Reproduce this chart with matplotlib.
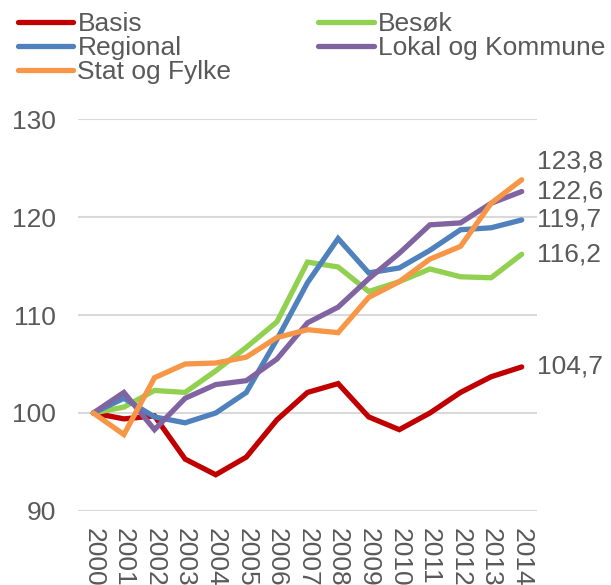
import matplotlib
matplotlib.use('Agg')
from matplotlib import pyplot as plt

plt.rcParams['font.family'] = ['Liberation Sans', 'DejaVu Sans']

years = [str(y) for y in range(2000, 2015)]
basis = [100, 99.4, 99.7, 95.3, 93.7, 95.5, 99.3, 102.1, 103.0, 99.6, 98.3, 100.0, 102.1, 103.7, 104.7]
besok = [100, 100.6, 102.3, 102.1, 104.3, 106.7, 109.3, 115.4, 114.9, 112.4, 113.4, 114.7, 113.9, 113.8, 116.2]
regional = [100, 101.5, 99.6, 99.0, 100.0, 102.1, 107.5, 113.3, 117.8, 114.3, 114.8, 116.6, 118.7, 118.9, 119.7]
lokal = [100, 102.1, 98.3, 101.5, 102.9, 103.3, 105.5, 109.2, 110.8, 113.7, 116.3, 119.2, 119.4, 121.4, 122.6]
stat = [100, 97.8, 103.6, 105.0, 105.1, 105.7, 107.7, 108.5, 108.2, 111.8, 113.4, 115.7, 117.0, 121.4, 123.8]
end_labels = ['104,7', '116,2', '119,7', '122,6', '123,8']

grey = '#595959'
fs = 19
fig = plt.figure(figsize=(6.11, 5.85), dpi=100)
ax = fig.add_axes([78 / 611, 1 - 511 / 585, 459 / 611, 392 / 585])

x = list(range(len(years)))
series = [
    ('Basis', basis, '#C00000'),
    ('Besøk', besok, '#92D050'),
    ('Regional', regional, '#4F81BD'),
    ('Lokal og Kommune', lokal, '#8064A2'),
    ('Stat og Fylke', stat, '#F79646'),
]
handles = {}
for name, vals, col in series:
    h, = ax.plot(x, vals, color=col, lw=3.8, solid_capstyle='round', solid_joinstyle='miter')
    handles[name] = h

# value labels at the right end (top one nudged up to avoid overlap)
offsets = [0, 0, 0, 0, 1.9]
for (name, vals, col), lab, off in zip(series, end_labels, offsets):
    ax.text(14.5, vals[-1] + off, lab, fontsize=fs, color=grey, va='center', ha='left')

ax.set_xlim(-0.5, 14.5)
ax.set_ylim(90, 130)
ax.set_yticks([90, 100, 110, 120, 130])
ax.set_xticks(x)
ax.set_xticklabels(years, rotation=270, fontsize=fs, color=grey, va='top', ha='center')
ax.tick_params(axis='y', labelsize=fs, colors=grey, length=0, pad=16)
ax.tick_params(axis='x', length=0, pad=12)
ax.grid(axis='y', color='#D9D9D9', lw=1.5)
ax.set_axisbelow(True)
for s in ax.spines.values():
    s.set_visible(False)

order = ['Basis', 'Regional', 'Stat og Fylke', 'Besøk', 'Lokal og Kommune']
fig.legend([handles[n] for n in order], order, ncol=2, loc='upper left',
           bbox_to_anchor=(18 / 611, 1 - 12 / 585), frameon=False, fontsize=fs,
           handlelength=2.1, handletextpad=0.15, labelspacing=0.0,
           columnspacing=3.3, labelcolor=grey, borderaxespad=0, borderpad=0)

fig.savefig('out.png', dpi=100)
